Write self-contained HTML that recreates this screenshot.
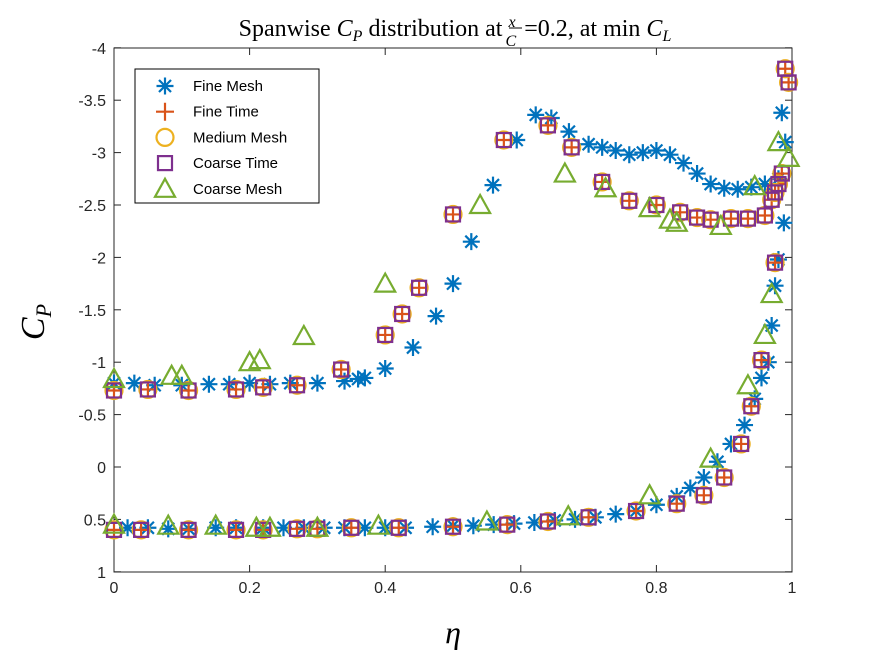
<!DOCTYPE html>
<html><head><meta charset="utf-8"><style>
body{margin:0;background:#fff;}
svg text{font-family:"Liberation Sans",sans-serif;}
.serif{font-family:"Liberation Serif",serif;}
</style></head><body>
<svg id="chart" width="875" height="656" viewBox="0 0 875 656" xmlns="http://www.w3.org/2000/svg">
<rect width="875" height="656" fill="#fff"/>
<g id="ticks"></g>
<g id="marks"></g>
<text class="serif" x="455" y="36" text-anchor="middle" font-size="24" fill="#000">Spanwise <tspan font-style="italic">C</tspan><tspan font-size="16" dy="5" font-style="italic">P</tspan><tspan dy="-5"> distribution at </tspan><tspan font-size="16" dy="-9" font-style="italic">x</tspan><tspan font-size="16" dx="-10" dy="19" font-style="italic">C</tspan><tspan dx="2" dy="-10"> =0.2, at min </tspan><tspan font-style="italic">C</tspan><tspan font-size="16" dy="5" font-style="italic">L</tspan></text>
<line x1="509" y1="28" x2="522" y2="28" stroke="#000" stroke-width="1"/>
<text class="serif" x="44" y="322" text-anchor="middle" font-size="34" font-style="italic" transform="rotate(-90 44 322)">C<tspan font-size="22" dy="7">P</tspan></text>
<text class="serif" x="453" y="643" text-anchor="middle" font-size="32" font-style="italic">η</text>
<g id="legend">
<rect x="135" y="69" width="184" height="134" fill="#fff" stroke="#000" stroke-width="1"/>
</g>
</svg>
<script>
const xTicks=[0,0.2,0.4,0.6,0.8,1];
const xTickLabels=["0","0.2","0.4","0.6","0.8","1"];
const yTicks=[-4,-3.5,-3,-2.5,-2,-1.5,-1,-0.5,0,0.5,1];
const yTickLabels=["-4","-3.5","-3","-2.5","-2","-1.5","-1","-0.5","0","0.5","1"];
const seriesNames=["Fine Mesh","Fine Time","Medium Mesh","Coarse Time","Coarse Mesh"];
const fineEta=[0,0.03,0.06,0.1,0.14,0.17,0.2,0.23,0.26,0.3,0.34,0.36,0.37,0.4,0.441,0.475,0.5,0.527,0.559,0.594,0.622,0.645,0.671,0.7,0.72,0.74,0.76,0.78,0.8,0.82,0.84,0.86,0.88,0.9,0.92,0.94,0.96,0.98,0.985,0.99,0.988,0.98,0.975,0.97,0.965,0.955,0.945,0.93,0.91,0.89,0.87,0.85,0.83,0.8,0.77,0.74,0.71,0.68,0.65,0.62,0.59,0.56,0.53,0.5,0.47,0.43,0.4,0.37,0.34,0.31,0.28,0.25,0.22,0.18,0.15,0.11,0.08,0.05,0.02];
const fineCp=[-0.8,-0.8,-0.78,-0.78,-0.79,-0.79,-0.8,-0.79,-0.8,-0.8,-0.82,-0.84,-0.85,-0.94,-1.14,-1.44,-1.75,-2.15,-2.69,-3.12,-3.36,-3.33,-3.2,-3.08,-3.05,-3.02,-2.98,-3.0,-3.02,-2.98,-2.9,-2.8,-2.7,-2.66,-2.65,-2.67,-2.7,-2.75,-3.38,-3.1,-2.33,-1.98,-1.73,-1.35,-1.0,-0.85,-0.65,-0.4,-0.22,-0.05,0.1,0.2,0.28,0.36,0.42,0.45,0.48,0.5,0.51,0.53,0.54,0.55,0.56,0.56,0.57,0.58,0.58,0.58,0.58,0.58,0.58,0.58,0.58,0.58,0.58,0.59,0.59,0.58,0.58];
const refEta=[0,0.05,0.11,0.18,0.22,0.27,0.335,0.4,0.425,0.45,0.5,0.575,0.64,0.675,0.72,0.76,0.8,0.835,0.86,0.88,0.91,0.935,0.96,0.97,0.975,0.98,0.985,0.99,0.995,0.975,0.955,0.94,0.925,0.9,0.87,0.83,0.77,0.7,0.64,0.58,0.5,0.42,0.35,0.3,0.27,0.22,0.18,0.11,0.04,0];
const refCp=[-0.73,-0.74,-0.73,-0.74,-0.76,-0.78,-0.93,-1.26,-1.46,-1.71,-2.41,-3.12,-3.26,-3.05,-2.72,-2.54,-2.5,-2.43,-2.38,-2.36,-2.37,-2.37,-2.4,-2.55,-2.62,-2.7,-2.8,-3.8,-3.67,-1.95,-1.02,-0.58,-0.22,0.1,0.27,0.35,0.42,0.48,0.52,0.55,0.57,0.58,0.58,0.59,0.59,0.6,0.6,0.6,0.6,0.6];
const coarseEta=[0,0.085,0.1,0.2,0.215,0.28,0.4,0.54,0.665,0.725,0.79,0.82,0.83,0.895,0.945,0.98,0.995,0.97,0.96,0.935,0.88,0.79,0.67,0.55,0.39,0.3,0.23,0.21,0.15,0.08,0];
const coarseCp=[-0.84,-0.87,-0.87,-1.0,-1.02,-1.25,-1.75,-2.5,-2.8,-2.66,-2.47,-2.36,-2.33,-2.3,-2.68,-3.1,-2.95,-1.65,-1.26,-0.78,-0.08,0.27,0.47,0.52,0.56,0.58,0.58,0.58,0.56,0.56,0.55];
const X=v=>114+678*v, Y=v=>467+104.8*v;
const NS="http://www.w3.org/2000/svg";
const tk=document.getElementById('ticks'), mk=document.getElementById('marks');
function el(tag,attrs,parent){const e=document.createElementNS(NS,tag);for(const k in attrs)e.setAttribute(k,attrs[k]);parent.appendChild(e);return e;}
const box=el('rect',{x:114,y:48,width:678,height:524,fill:'none',stroke:'#262626','stroke-width':1},tk);


xTicks.forEach((t,i)=>{
 el('line',{x1:X(t),x2:X(t),y1:572,y2:565,stroke:'#262626'},tk);
 el('line',{x1:X(t),x2:X(t),y1:48,y2:55,stroke:'#262626'},tk);
 const tx=el('text',{x:X(t),y:593,'text-anchor':'middle','font-size':16,fill:'#262626'},tk);
 tx.textContent=xTickLabels[i];
 
 
});
yTicks.forEach((t,i)=>{
 el('line',{x1:114,x2:121,y1:Y(t),y2:Y(t),stroke:'#262626'},tk);
 el('line',{x1:792,x2:785,y1:Y(t),y2:Y(t),stroke:'#262626'},tk);
 const tx=el('text',{x:106,y:Y(t)+6,'text-anchor':'end','font-size':16,fill:'#262626'},tk);
 tx.textContent=yTickLabels[i];
 
 
});
function star(g,x,y){const r=8.5;let d='';for(let k=0;k<4;k++){const a=k*Math.PI/4;d+=`M${x-r*Math.cos(a)},${y-r*Math.sin(a)}L${x+r*Math.cos(a)},${y+r*Math.sin(a)}`;}el('path',{d,stroke:'#0072BD','stroke-width':2.2,fill:'none'},g);}
function plus(g,x,y){el('path',{d:`M${x-9},${y}H${x+9}M${x},${y-9}V${y+9}`,stroke:'#D95319','stroke-width':2.2,fill:'none'},g);}
function circ(g,x,y){el('circle',{cx:x,cy:y,r:8.5,stroke:'#EDB120','stroke-width':2.2,fill:'none'},g);}
function sq(g,x,y){el('rect',{x:x-7,y:y-7,width:14,height:14,stroke:'#7E2F8E','stroke-width':2.2,fill:'none'},g);}
function tri(g,x,y){el('path',{d:`M${x},${y-10}L${x+10},${y+8}L${x-10},${y+8}Z`,stroke:'#77AC30','stroke-width':2.2,fill:'none'},g);}
const gs=seriesNames.map((n,i)=>{const g=el('g',{},mk);return g;});
fineEta.forEach((e,i)=>star(gs[0],X(e),Y(fineCp[i])));
refEta.forEach((e,i)=>circ(gs[2],X(e),Y(refCp[i])));
refEta.forEach((e,i)=>sq(gs[3],X(e),Y(refCp[i])));
refEta.forEach((e,i)=>plus(gs[1],X(e),Y(refCp[i])));
coarseEta.forEach((e,i)=>tri(gs[4],X(e),Y(coarseCp[i])));
const lg=document.getElementById('legend');
const fns=[star,plus,circ,sq,tri];
seriesNames.forEach((n,i)=>{
 const y=86+25.7*i;
 const g=el('g',{},lg);
 
 
 fns[i](g,165,y);
 const t=el('text',{x:193,y:y+5,'font-size':15,fill:'#000'},g);
 t.textContent=n;
});
</script>
</body></html>
